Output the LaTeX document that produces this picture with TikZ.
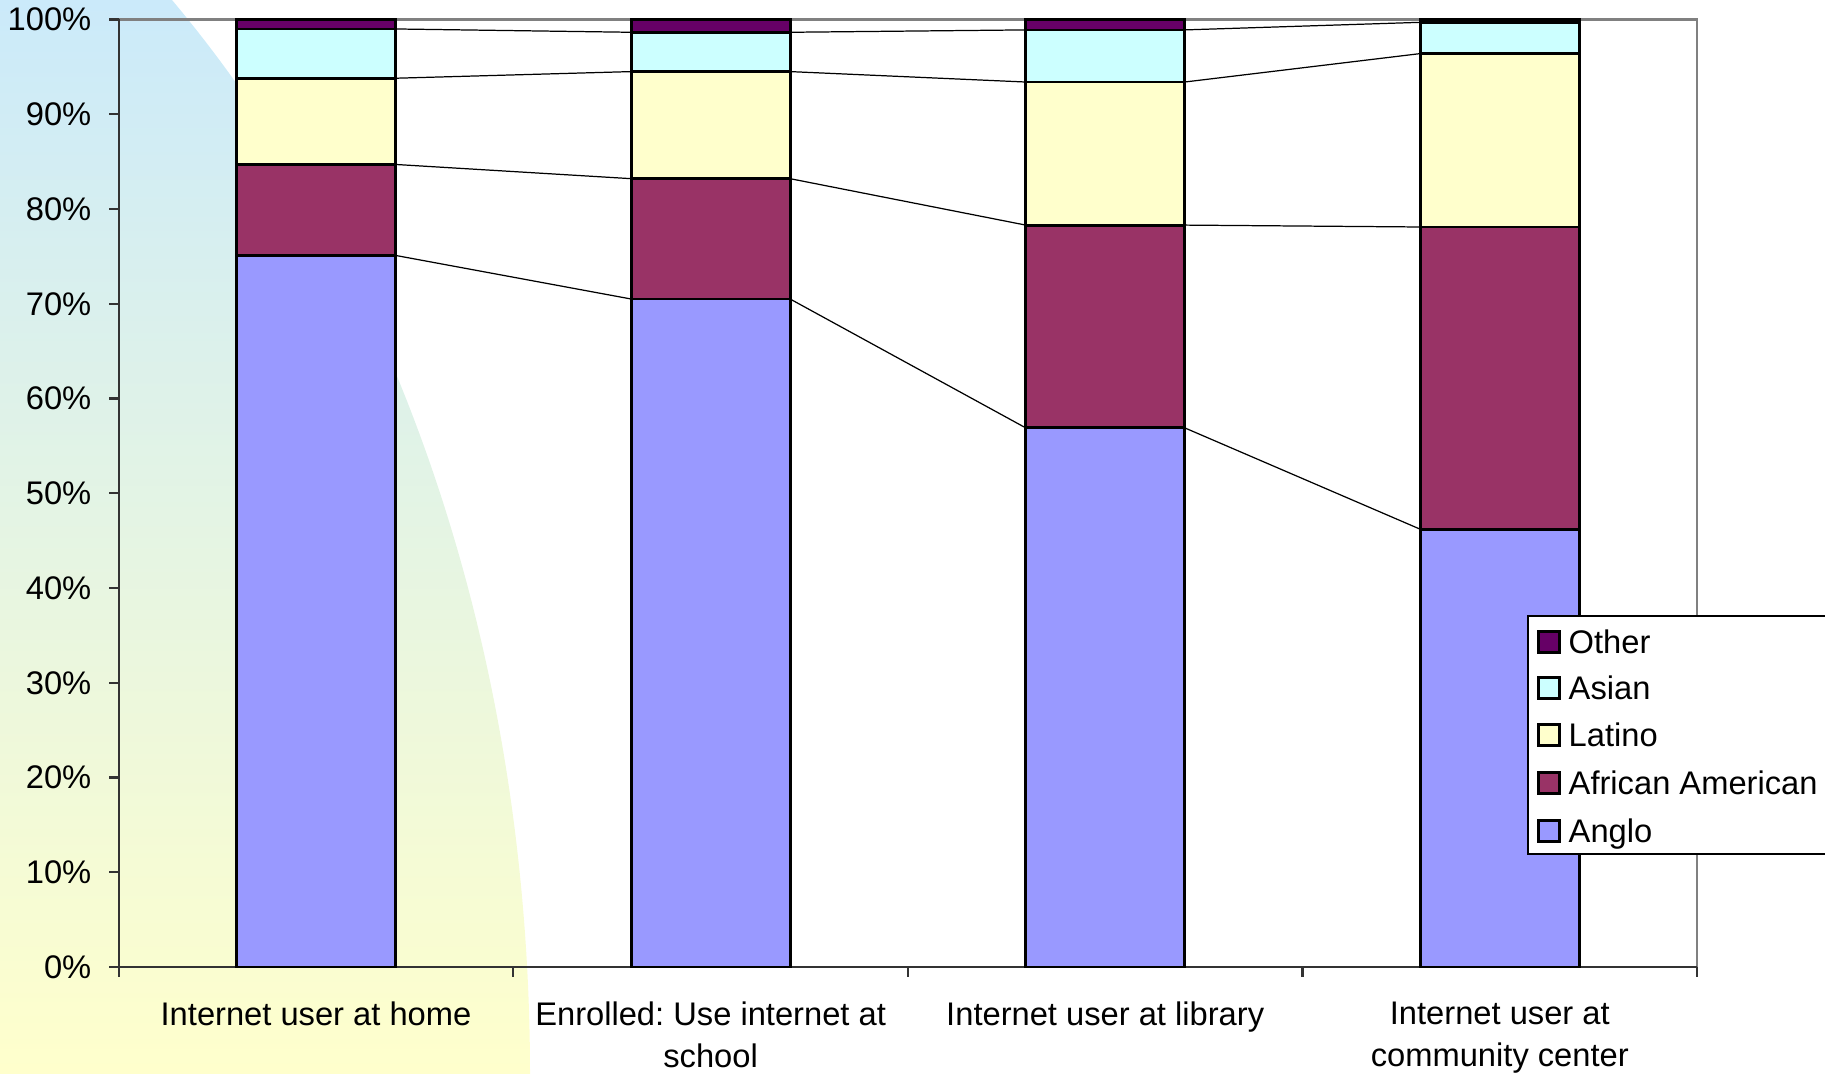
\documentclass[tikz,border=0pt]{standalone}
\usepackage{fontspec}
\setmainfont{Liberation Sans}
\usetikzlibrary{calc}
\frenchspacing

\definecolor{anglo}{HTML}{9999FF}
\definecolor{afram}{HTML}{993366}
\definecolor{latino}{HTML}{FFFFCC}
\definecolor{asian}{HTML}{CCFFFF}
\definecolor{other}{HTML}{660066}
\definecolor{skyband}{HTML}{CBEAFA}
\definecolor{sandband}{HTML}{FFFFCC}

\tikzset{
  seg/.style={draw=black, line width=0.8pt},
  link/.style={draw=black, line width=0.35pt},
  lab/.style={font=\fontsize{9.3}{11.9}\selectfont, inner sep=0pt},
  swatch/.style={draw=black, line width=0.8pt, minimum size=2.1mm, inner sep=0pt},
}

\begin{document}
\begin{tikzpicture}[x=0.1mm, y=-0.1mm]
  \useasboundingbox (0,0) rectangle (1825,1074);
  \shade[top color=skyband, bottom color=sandband] (0,0) -- (172,0)
    .. controls (415,290) and (530,684) .. (530,1074) -- (0,1074) -- cycle;

  \draw[black!50, line width=0.6pt] (118.7,19.5) -- (1697,19.5) -- (1697,967);
  \draw[black!80, line width=0.6pt] (118.7,19.5) -- (118.7,967) -- (1697,967);
  \foreach \p in {0,10,...,100} {
    \draw[black!80, line width=0.6pt] (109,{967-9.475*\p}) -- (118.7,{967-9.475*\p});
    \node[lab, anchor=base east] (y\p) at (92,{978.5-9.475*\p}) {\p\%};
  }
  \foreach \i in {0,...,4}
    \draw[black!80, line width=0.6pt] ({118.7+394.6*\i},967) -- ({118.7+394.6*\i},977);

  \foreach \i/\a/\b/\c/\d in {1/75.1/84.7/93.8/99.0, 2/70.5/83.2/94.5/98.65,
      3/56.9/78.3/93.4/98.9, 4/46.2/78.1/96.4/99.7} {
    \pgfmathsetmacro{\xl}{118.7+394.6*(\i-0.5)-79.5}
    \pgfmathsetmacro{\xr}{118.7+394.6*(\i-0.5)+79.5}
    \foreach \lo/\hi/\col [count=\k] in {0/\a/anglo, \a/\b/afram, \b/\c/latino, \c/\d/asian, \d/100/other} {
      \draw[seg, fill=\col] (\xl,{967-9.475*\lo}) rectangle (\xr,{967-9.475*\hi});
      \coordinate (L\i-\k) at (\xl,{967-9.475*\hi});
      \coordinate (R\i-\k) at (\xr,{967-9.475*\hi});
    }
  }
  \foreach \i/\j in {1/2,2/3,3/4}
    \foreach \k in {1,...,4}
      \draw[link] (R\i-\k) -- (L\j-\k);

  \node[lab, anchor=north, align=center] (home) at (316,1001) {Internet user at home};
  \node[lab, anchor=north, align=center] (school) at (710.6,1001) {Enrolled: Use internet at\\school};
  \node[lab, anchor=north, align=center] (library) at (1105.2,1001) {Internet user at library};
  \node[lab, anchor=north, align=center] (center) at (1499.8,1001) {Internet user at\\community center};

  \draw[fill=white, line width=0.4pt] (1528,616) rectangle (1840,854);
  \foreach \y/\col/\name [count=\k] in {641.7/other/Other, 688/asian/Asian,
      735/latino/Latino, 783/afram/African American, 831/anglo/Anglo} {
    \node[swatch, fill=\col] (key\k) at (1549,\y) {};
    \node[lab, anchor=base west] (txt\k) at (1568,{\y+11.5}) {\name};
  }
\end{tikzpicture}
\end{document}
